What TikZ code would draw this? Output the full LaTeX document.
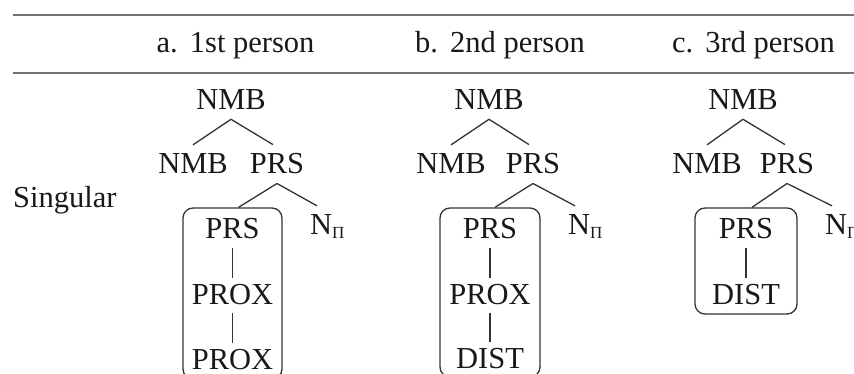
\documentclass[tikz,border=0pt]{standalone}
\usepackage{fontspec}
\setmainfont{Liberation Serif}
\newcommand{\subpi}{\raisebox{-3pt}{\fontsize{17}{17}\selectfont Π}}
\begin{document}
\begin{tikzpicture}[x=1pt,y=-1pt,
  lbl/.style={font=\fontsize{30.5}{36}\selectfont, text=black!90, inner xsep=0pt, inner ysep=9pt, anchor=base},
  edge/.style={draw=black!80, line width=1.3pt},
  vedge/.style={edge, shorten >=-3pt},
  bx/.style={draw=black!80, line width=1.3pt, rounded corners=10pt, inner sep=0pt},
  rulestyle/.style={draw=black!55, line width=2.2pt}]
\clip (0,0) rectangle (854,374);
\fill[white] (0,0) rectangle (854,374);

% rules
\draw[rulestyle] (13,15) -- (854,15);
\draw[rulestyle] (13,73) -- (854,73);

% headers
\node[lbl] (ha) at (235.5,53) {a.\hspace{0.4em}1st person};
\node[lbl] (hb) at (500,53) {b.\hspace{0.4em}2nd person};
\node[lbl] (hc) at (753.5,53) {c.\hspace{0.4em}3rd person};
\node[lbl, anchor=base west] (sg) at (13,208) {Singular};

% tree a
\node[lbl] (ra) at (231,110) {NMB};
\node[lbl] (na) at (193,174) {NMB};
\node[lbl] (pa) at (277,174) {PRS};
\node[bx, minimum width=99, minimum height=171] (ba) at (232.5,293.5) {};
\node[lbl] (a1) at (232.5,239) {PRS};
\node[lbl] (a2) at (232.5,304) {PROX};
\node[lbl] (a3) at (232.5,369) {PROX};
\node[lbl, anchor=base west] (npa) at (310,235) {N\subpi};
\draw[edge] (ra.south) -- (na.north);
\draw[edge] (ra.south) -- ([xshift=-4pt]pa.north);
\draw[edge] (pa.south) -- ([xshift=6pt]ba.north);
\draw[edge] (pa.south) -- ([xshift=7pt]npa.north west);
\draw[vedge] (a1.south) -- (a2.north);
\draw[vedge] (a2.south) -- (a3.north);

% tree b
\node[lbl] (rb) at (489,110) {NMB};
\node[lbl] (nb) at (451,174) {NMB};
\node[lbl] (pb) at (533,174) {PRS};
\node[bx, minimum width=100, minimum height=169] (bb) at (490,292.5) {};
\node[lbl] (b1) at (490,239) {PRS};
\node[lbl] (b2) at (490,304) {PROX};
\node[lbl] (b3) at (490,368) {DIST};
\node[lbl, anchor=base west] (npb) at (568,235) {N\subpi};
\draw[edge] (rb.south) -- (nb.north);
\draw[edge] (rb.south) -- ([xshift=-4pt]pb.north);
\draw[edge] (pb.south) -- ([xshift=5pt]bb.north);
\draw[edge] (pb.south) -- ([xshift=7pt]npb.north west);
\draw[vedge] (b1.south) -- (b2.north);
\draw[vedge] (b2.south) -- (b3.north);

% tree c
\node[lbl] (rc) at (743,110) {NMB};
\node[lbl] (nc) at (707,174) {NMB};
\node[lbl] (pc) at (787,174) {PRS};
\node[bx, minimum width=102, minimum height=106] (bc) at (746,261) {};
\node[lbl] (c1) at (746,239) {PRS};
\node[lbl] (c2) at (746,304) {DIST};
\node[lbl, anchor=base west] (npc) at (825,235) {N\subpi};
\draw[edge] (rc.south) -- (nc.north);
\draw[edge] (rc.south) -- ([xshift=-2pt]pc.north);
\draw[edge] (pc.south) -- ([xshift=6pt]bc.north);
\draw[edge] (pc.south) -- ([xshift=7pt]npc.north west);
\draw[vedge] (c1.south) -- (c2.north);
\end{tikzpicture}
\end{document}
